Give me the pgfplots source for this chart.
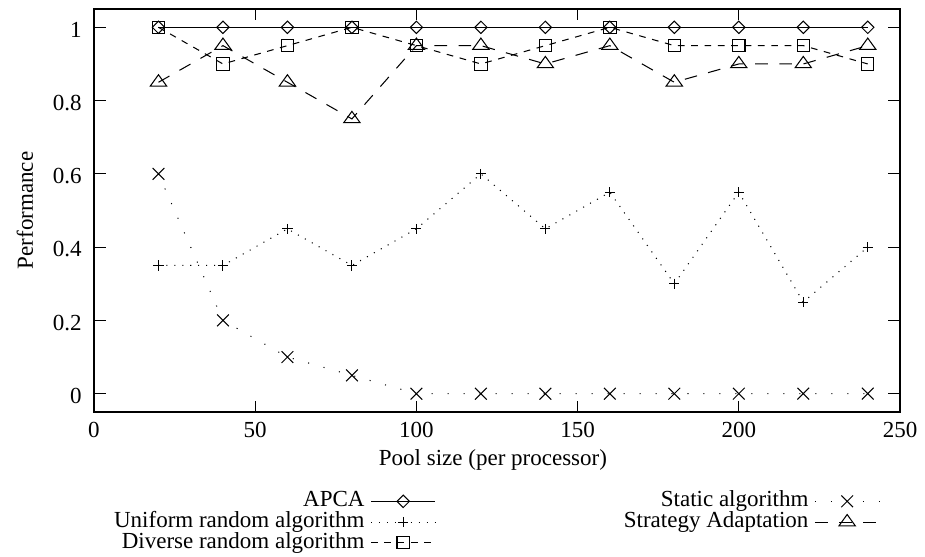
\documentclass[border=0pt]{standalone}
\usepackage{fontspec}
\setmainfont{Liberation Serif}
\usepackage{pgfplots}
\pgfplotsset{compat=1.18}

\begin{document}
\begin{tikzpicture}
% fixed page: 925 x 556 px at 0.4348 pt per px
\useasboundingbox (-40.87pt,-62.61pt) rectangle (361.30pt,179.13pt);
\begin{axis}[
    scale only axis,
    width=350.43pt, height=175.22pt,
    xmin=0, xmax=250, ymin=-0.05, ymax=1.05,
    xtick={0,50,100,150,200,250},
    ytick={0,0.2,0.4,0.6,0.8,1},
    tick align=inside,
    xtick pos=both, ytick pos=both,
    xticklabel pos=lower, yticklabel pos=left,
    major tick length=5pt,
    axis line style={line width=0.6pt},
    every tick/.style={black, line width=0.5pt},
    /pgf/number format/assume math mode=true,
    xticklabel style={yshift=-1pt},
    yticklabel style={xshift=-1.9pt, yshift=-1pt},
    xlabel={Pool size (per processor)},
    ylabel={Performance},
    every axis x label/.style={at={(axis description cs:0.495,-0.1315)}, anchor=base},
    every axis y label/.style={at={(axis description cs:-0.0856,0.5)}, rotate=90, anchor=center},
    legend columns=2,
    legend plot pos=right,
    legend cell align=right,
    legend style={at={(axis description cs:0.5,-0.196)}, anchor=north,
        draw=none, fill=none, inner sep=0pt, outer sep=0pt, row sep=0pt,
        nodes={inner sep=0pt, outer sep=0pt, text height=6.9pt, text depth=2.1pt},
        /tikz/every odd column/.append style={column sep=2.6pt},
        /tikz/every even column/.append style={column sep=81.7pt}},
    legend image code/.code={\draw[mark repeat=2,mark phase=2] plot coordinates {(0pt,0pt)(14pt,0pt)(28pt,0pt)};},
    every axis plot/.append style={black, line width=0.45pt},
]
% APCA
\addplot[mark=square, mark size=1.9pt, mark options={solid, rotate=45}] coordinates {
    (20,1) (40,1) (60,1) (80,1) (100,1) (120,1) (140,1) (160,1) (180,1) (200,1) (220,1) (240,1)};
\addlegendentry{APCA}
% Static
\addplot[dash pattern=on 0.45pt off 6.5pt, mark=x, mark size=3.6pt, mark options={solid}] coordinates {
    (20,0.6) (40,0.2) (60,0.1) (80,0.05) (100,0) (120,0) (140,0) (160,0) (180,0) (200,0) (220,0) (240,0)};
\addlegendentry{Static algorithm}
% Uniform random
\addplot[dash pattern=on 0.45pt off 3pt, mark=+, mark size=2.2pt, mark options={solid}] coordinates {
    (20,0.35) (40,0.35) (60,0.45) (80,0.35) (100,0.45) (120,0.6) (140,0.45) (160,0.55) (180,0.3) (200,0.55) (220,0.25) (240,0.4)};
\addlegendentry{Uniform random algorithm}
% Strategy adaptation
\addplot[dash pattern=on 5.5pt off 5pt, mark=triangle, mark size=4.1pt, mark options={solid, yscale=0.8}] coordinates {
    (20,0.85) (40,0.95) (60,0.85) (80,0.75) (100,0.95) (120,0.95) (140,0.9) (160,0.95) (180,0.85) (200,0.9) (220,0.9) (240,0.95)};
\addlegendentry{Strategy Adaptation}
% Diverse random
\addplot[dash pattern=on 2.9pt off 2.9pt, mark=square, mark size=2.7pt, mark options={solid}] coordinates {
    (20,1) (40,0.9) (60,0.95) (80,1) (100,0.95) (120,0.9) (140,0.95) (160,1) (180,0.95) (200,0.95) (220,0.95) (240,0.9)};
\addlegendentry{Diverse random algorithm}
\end{axis}
\end{tikzpicture}
\end{document}
